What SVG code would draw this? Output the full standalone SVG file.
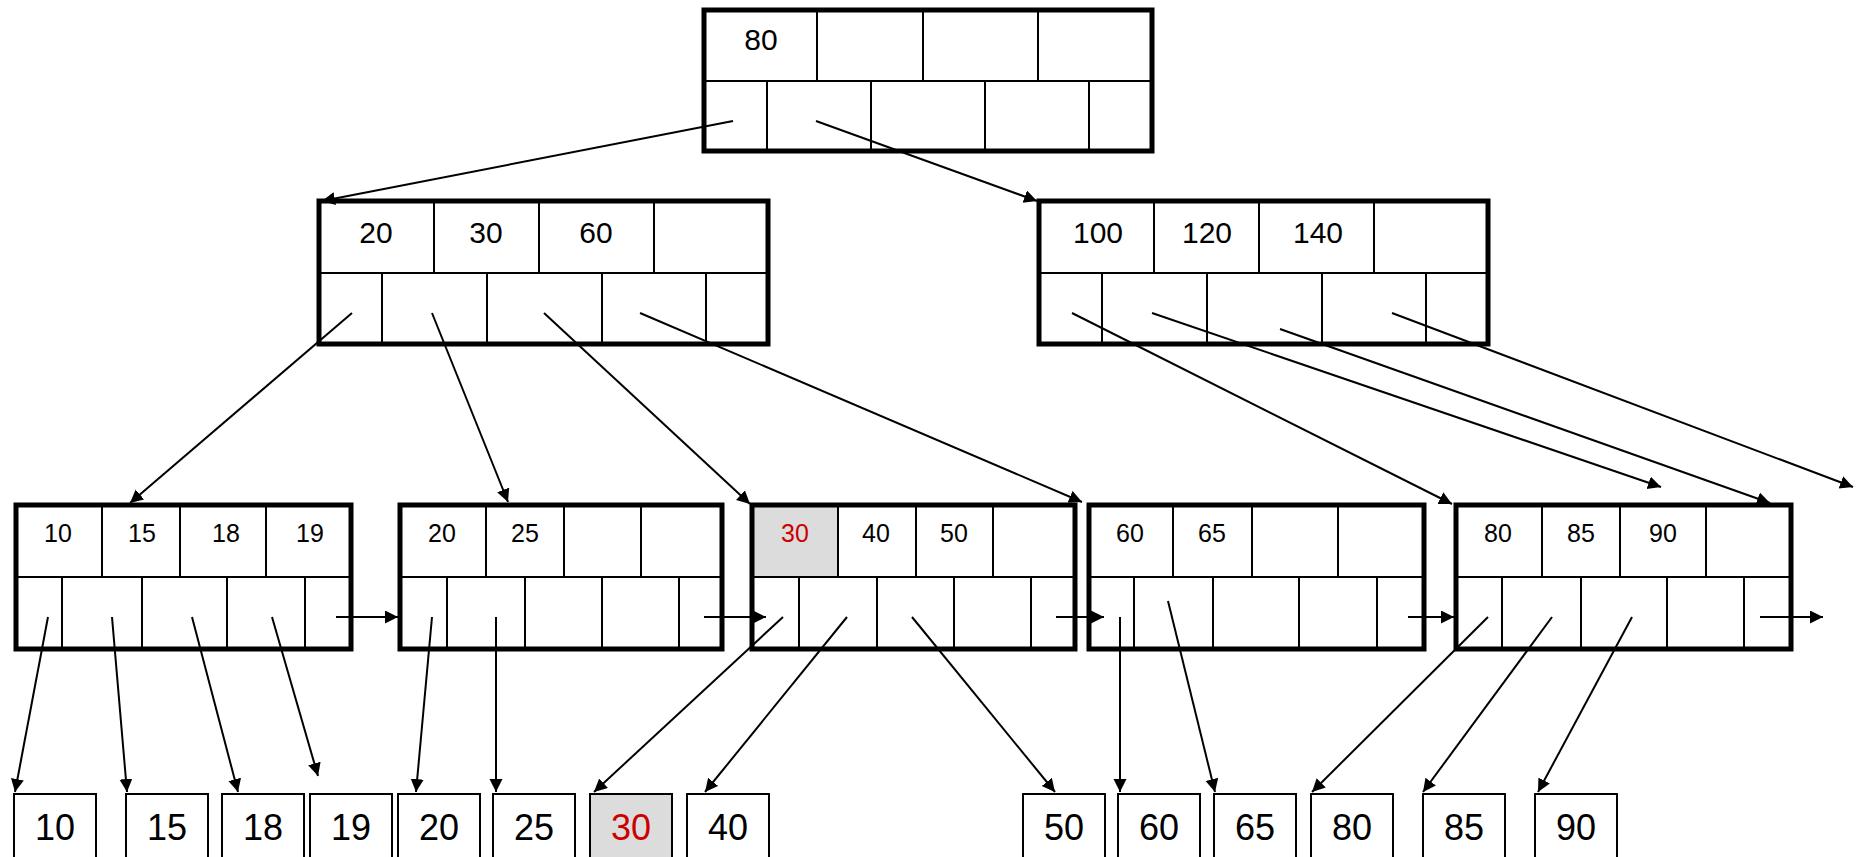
<svg xmlns="http://www.w3.org/2000/svg" width="1863" height="857" viewBox="0 0 1863 857">
<style>
.box{fill:none;stroke:#000;stroke-width:5}
.div{stroke:#000;stroke-width:2;fill:none}
.rec{fill:#fff;stroke:#000;stroke-width:2}
.t{font-family:"Liberation Sans",Arial,sans-serif;fill:#000;text-anchor:middle}
.k1{font-size:30px}
.k2{font-size:25px}
.k3{font-size:36px}
.red{fill:#cc0000}
.gray{fill:#dcdcdc}
.c{stroke:#000;stroke-width:2;fill:none;marker-end:url(#ah)}
</style>
<defs>
<marker id="ah" markerUnits="userSpaceOnUse" markerWidth="14" markerHeight="14" refX="13" refY="6.5" orient="auto">
<path d="M0,0 L13,6.5 L0,13 z" fill="#000"/>
</marker>
</defs>
<rect width="1863" height="857" fill="#fff"/>

<g id="root">
<path class="div" d="M704,81H1152M817,10V81M923,10V81M1038,10V81M767,81V151M871,81V151M985,81V151M1089,81V151"/>
<rect class="box" x="704" y="10" width="448" height="141"/>
<text class="t k1" x="761" y="50">80</text>
</g>

<g id="inner-left">
<path class="div" d="M319,273H768M434,201V273M539,201V273M654,201V273M382,273V344M487,273V344M602,273V344M706,273V344"/>
<rect class="box" x="319" y="201" width="449" height="143"/>
<text class="t k1" x="376" y="243">20</text>
<text class="t k1" x="486" y="243">30</text>
<text class="t k1" x="596" y="243">60</text>
</g>

<g id="inner-right">
<path class="div" d="M1039,273H1488M1154,201V273M1259,201V273M1374,201V273M1102,273V344M1207,273V344M1322,273V344M1426,273V344"/>
<rect class="box" x="1039" y="201" width="449" height="143"/>
<text class="t k1" x="1098" y="243">100</text>
<text class="t k1" x="1207" y="243">120</text>
<text class="t k1" x="1318" y="243">140</text>
</g>

<g id="leaf1">
<path class="div" d="M16,577H351M102,505V577M180,505V577M266,505V577M62,577V649M142,577V649M227,577V649M305,577V649"/>
<rect class="box" x="16" y="505" width="335" height="144"/>
<text class="t k2" x="58" y="542">10</text>
<text class="t k2" x="142" y="542">15</text>
<text class="t k2" x="226" y="542">18</text>
<text class="t k2" x="310" y="542">19</text>
</g>

<g id="leaf2">
<path class="div" d="M400,577H722M486,505V577M564,505V577M641,505V577M447,577V649M525,577V649M602,577V649M679,577V649"/>
<rect class="box" x="400" y="505" width="322" height="144"/>
<text class="t k2" x="442" y="542">20</text>
<text class="t k2" x="525" y="542">25</text>
</g>

<g id="leaf3">
<rect class="gray" x="752" y="505" width="86" height="72"/>
<path class="div" d="M752,577H1075M838,505V577M916,505V577M993,505V577M799,577V649M877,577V649M954,577V649M1031,577V649"/>
<rect class="box" x="752" y="505" width="323" height="144"/>
<text class="t k2 red" x="795" y="542">30</text>
<text class="t k2" x="876" y="542">40</text>
<text class="t k2" x="954" y="542">50</text>
</g>

<g id="leaf4">
<path class="div" d="M1089,577H1424M1173,505V577M1252,505V577M1338,505V577M1134,577V649M1213,577V649M1299,577V649M1377,577V649"/>
<rect class="box" x="1089" y="505" width="335" height="144"/>
<text class="t k2" x="1130" y="542">60</text>
<text class="t k2" x="1212" y="542">65</text>
</g>

<g id="leaf5">
<path class="div" d="M1456,577H1791M1542,505V577M1620,505V577M1706,505V577M1502,577V649M1581,577V649M1667,577V649M1744,577V649"/>
<rect class="box" x="1456" y="505" width="335" height="144"/>
<text class="t k2" x="1498" y="542">80</text>
<text class="t k2" x="1581" y="542">85</text>
<text class="t k2" x="1663" y="542">90</text>
</g>

<g id="rec10"><rect class="rec" x="14" y="794" width="82" height="80"/><text class="t k3" x="55" y="840">10</text></g>
<g id="rec15"><rect class="rec" x="126" y="794" width="82" height="80"/><text class="t k3" x="167" y="840">15</text></g>
<g id="rec18"><rect class="rec" x="222" y="794" width="82" height="80"/><text class="t k3" x="263" y="840">18</text></g>
<g id="rec19"><rect class="rec" x="310" y="794" width="82" height="80"/><text class="t k3" x="351" y="840">19</text></g>
<g id="rec20"><rect class="rec" x="398" y="794" width="82" height="80"/><text class="t k3" x="439" y="840">20</text></g>
<g id="rec25"><rect class="rec" x="493" y="794" width="82" height="80"/><text class="t k3" x="534" y="840">25</text></g>
<g id="rec30"><rect class="rec" x="590" y="794" width="82" height="80" style="fill:#dcdcdc"/><text class="t k3 red" x="631" y="840">30</text></g>
<g id="rec40"><rect class="rec" x="687" y="794" width="82" height="80"/><text class="t k3" x="728" y="840">40</text></g>
<g id="rec50"><rect class="rec" x="1023" y="794" width="82" height="80"/><text class="t k3" x="1064" y="840">50</text></g>
<g id="rec60"><rect class="rec" x="1118" y="794" width="82" height="80"/><text class="t k3" x="1159" y="840">60</text></g>
<g id="rec65"><rect class="rec" x="1214" y="794" width="82" height="80"/><text class="t k3" x="1255" y="840">65</text></g>
<g id="rec80"><rect class="rec" x="1311" y="794" width="82" height="80"/><text class="t k3" x="1352" y="840">80</text></g>
<g id="rec85"><rect class="rec" x="1423" y="794" width="82" height="80"/><text class="t k3" x="1464" y="840">85</text></g>
<g id="rec90"><rect class="rec" x="1535" y="794" width="82" height="80"/><text class="t k3" x="1576" y="840">90</text></g>

<g id="connectors">
<path class="c" d="M733,121L322,201"/>
<path class="c" d="M816,121L1037,201"/>
<path class="c" d="M352,313L130,503"/>
<path class="c" d="M432,313L508,502"/>
<path class="c" d="M544,313L750,504"/>
<path class="c" d="M640,313L1082,502"/>
<path class="c" d="M1072,313L1452,504"/>
<path class="c" d="M1152,313L1661,487"/>
<path class="c" d="M1280,329L1770,503"/>
<path class="c" d="M1392,313L1853,487"/>
<path class="c" d="M48,617L15,792"/>
<path class="c" d="M112,617L127,792"/>
<path class="c" d="M192,617L238,792"/>
<path class="c" d="M272,617L318,776"/>
<path class="c" d="M432,617L416,792"/>
<path class="c" d="M496,617L496,792"/>
<path class="c" d="M783,617L594,792"/>
<path class="c" d="M847,617L705,792"/>
<path class="c" d="M912,617L1055,792"/>
<path class="c" d="M1120,617L1120,792"/>
<path class="c" d="M1168,601L1215,792"/>
<path class="c" d="M1488,617L1312,792"/>
<path class="c" d="M1552,617L1423,792"/>
<path class="c" d="M1632,617L1538,792"/>
<path class="c" d="M336,617L398,617"/>
<path class="c" d="M704,617L766,617"/>
<path class="c" d="M1056,617L1104,617"/>
<path class="c" d="M1408,617L1454,617"/>
<path class="c" d="M1760,617L1823,617"/>
</g>
</svg>
